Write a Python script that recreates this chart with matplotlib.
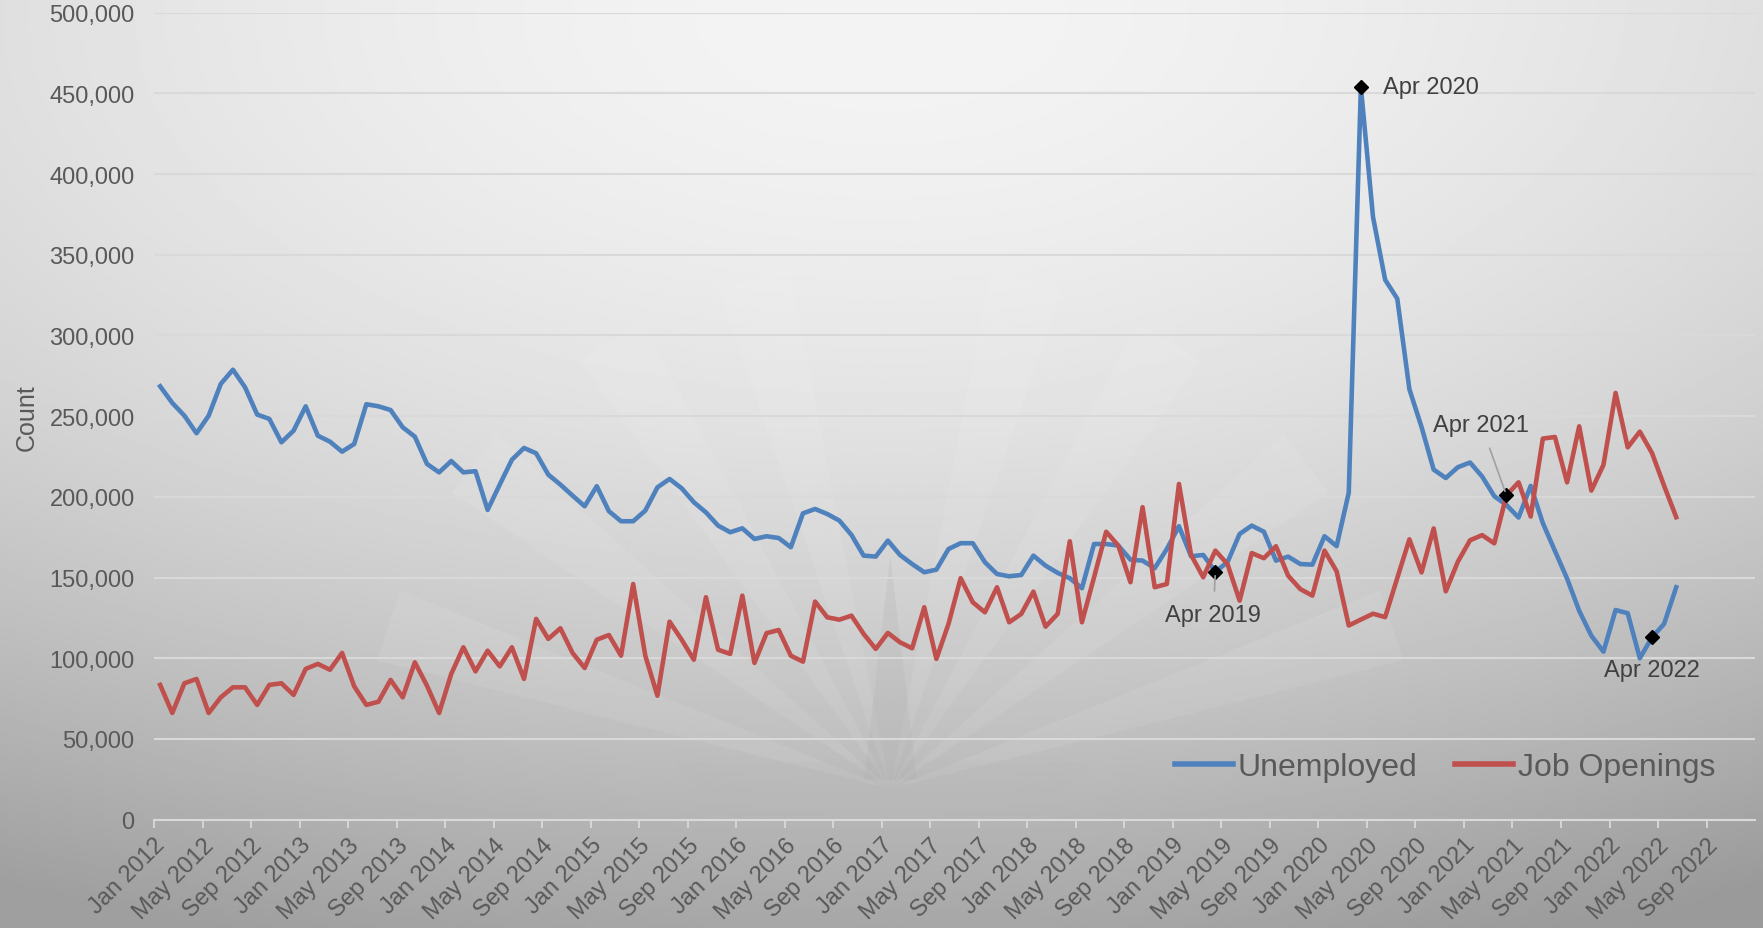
import numpy as np
import matplotlib
matplotlib.use("Agg")
import matplotlib.pyplot as plt
from matplotlib.patches import Polygon

plt.rcParams['font.family'] = ['Liberation Sans', 'DejaVu Sans']

# monthly values, Jan 2012 .. Jun 2022 (thousands)
unemployed = [268.5, 258.2, 250.3, 239.4, 250.3, 270.0, 278.8, 267.9, 251.0, 248.3, 233.8, 241.0,
              256.1, 237.9, 234.2, 228.0, 232.8, 257.4, 256.1, 253.8, 243.1, 237.3, 220.4, 215.2,
              222.2, 215.2, 215.9, 191.9, 207.6, 223.0, 230.3, 227.0, 213.8, 207.6, 200.8, 194.2,
              206.6, 191.1, 184.9, 184.9, 191.5, 205.9, 211.1, 205.3, 196.7, 190.4, 182.2, 178.1,
              180.5, 173.9, 175.6, 174.5, 168.8, 189.8, 192.5, 189.4, 185.3, 176.4, 163.6, 163.0,
              172.9, 164.0, 158.4, 153.3, 154.9, 167.7, 171.3, 171.3, 159.5, 152.2, 150.8, 151.6,
              163.6, 157.4, 152.9, 149.6, 143.4, 170.8, 170.8, 169.8, 161.1, 160.5, 155.8, 167.7,
              181.8, 163.2, 164.0, 153.7, 159.5, 177.0, 182.2, 178.4, 160.5, 163.0, 158.4, 158.0,
              175.6, 169.5, 202.6, 453.8, 373.4, 334.5, 322.8, 266.7, 243.3, 216.9, 211.7, 218.4,
              221.3, 212.6, 200.4, 195.0, 187.2, 206.8, 183.8, 166.5, 149.4, 129.4, 114.0, 104.1,
              129.9, 127.9, 100.0, 113.0, 121.3, 144.0]
job_openings = [83.5, 66.1, 84.5, 87.2, 66.1, 75.8, 82.0, 82.0, 71.1, 83.5, 84.5, 77.3,
                93.4, 96.5, 92.9, 103.3, 82.6, 71.1, 73.1, 86.6, 75.8, 97.5, 83.0, 66.1,
                90.3, 106.8, 91.9, 104.7, 95.0, 106.8, 87.2, 124.4, 112.0, 118.6, 103.3, 94.0,
                111.5, 114.4, 101.6, 146.0, 101.6, 76.8, 122.7, 111.5, 99.1, 137.8, 105.3, 102.7,
                138.8, 97.1, 115.6, 117.5, 101.6, 97.9, 135.1, 125.4, 123.9, 126.4, 115.1, 105.8,
                115.7, 109.9, 106.2, 131.6, 99.6, 121.3, 149.6, 134.7, 128.5, 144.0, 122.3, 127.5,
                141.3, 119.6, 127.5, 172.5, 122.3, 150.2, 178.4, 169.8, 147.1, 193.6, 144.0, 146.0,
                208.0, 164.0, 150.2, 166.7, 158.4, 135.7, 165.2, 162.0, 169.4, 151.2, 142.9, 138.8,
                166.7, 153.9, 120.3, 124.0, 127.6, 125.5, 149.7, 173.7, 153.2, 180.4, 141.5, 159.9,
                173.1, 176.3, 171.2, 201.0, 209.0, 187.8, 236.1, 237.1, 209.0, 243.7, 203.9, 219.8,
                264.4, 230.7, 240.4, 227.2, 206.9, 187.4]

month_names = ['Jan', 'Feb', 'Mar', 'Apr', 'May', 'Jun', 'Jul', 'Aug', 'Sep', 'Oct', 'Nov', 'Dec']
years = list(range(2012, 2023))
tick_labels = [f"{month_names[i % 12]} {years[i // 12]}" for i in range(0, 129, 4)]

# annotated points: (month index, series, label)
notes = [(87, 'u', 'Apr 2019'), (99, 'u', 'Apr 2020'), (111, 'j', 'Apr 2021'), (123, 'u', 'Apr 2022')]

blue = '#4F81BD'
red = '#C0504D'
txt = '#595959'

unemp = np.array(unemployed) * 1000
jobs = np.array(job_openings) * 1000
x = np.arange(len(unemp)) + 0.5

fig = plt.figure(figsize=(17.63, 9.29), dpi=100)

# gradient background
bg = fig.add_axes([0, 0, 1, 1], zorder=-10)
gy, gx = np.mgrid[0:1:300j, 0:1:600j]
d = np.sqrt(((gx - 0.5) * 1.0) ** 2 + ((gy - 0.02) * 1.05) ** 2)
shade = 0.955 - 0.26 * np.clip(d, 0, 1.1) ** 1.7
shade = shade - 0.05 * np.clip(gy - 0.45, 0, 1) - 0.05 * np.clip(gx - 0.6, 0, 1) * gy
bg.imshow(shade, cmap='gray', vmin=0, vmax=1, extent=[0, 1, 0, 1], aspect='auto', origin='upper')
# faint sunburst behind the plot
cx, cy = 0.505, 0.15
for ang in [18, 38, 58, 75, 105, 122, 142, 162]:
    a = np.radians(ang)
    w = np.radians(4)
    r = 0.30
    pts = [(cx, cy), (cx + r * np.cos(a - w), cy + r * np.sin(a - w) * 1.9),
           (cx + r * np.cos(a + w), cy + r * np.sin(a + w) * 1.9)]
    bg.add_patch(Polygon(pts, closed=True, color='white', alpha=0.08, lw=0))
bg.add_patch(Polygon([(0.383, 0.178), (0.62, 0.178), (0.6, 0.14), (0.4, 0.14)],
                     color='#b8b8b8', alpha=0.2, lw=0))
bg.add_patch(Polygon([(0.49, 0.16), (0.505, 0.40), (0.52, 0.16)], color='#a8a8a8', alpha=0.18, lw=0))
bg.set_xlim(0, 1)
bg.set_ylim(0, 1)
bg.axis('off')

ax = fig.add_axes([0.0874, 0.1166, 0.9081, 0.8687])
ax.patch.set_alpha(0)

ax.plot(x, unemp, color=blue, lw=3.3, label='Unemployed', solid_joinstyle='round', zorder=3)
ax.plot(x, jobs, color=red, lw=3.3, label='Job Openings', solid_joinstyle='round', zorder=3)

ax.set_xlim(0, 132)
ax.set_ylim(0, 500000)
ax.set_yticks(np.arange(0, 500001, 50000))
ax.set_yticklabels([f"{v:,}" for v in range(0, 500001, 50000)], fontsize=17, color=txt)
ax.set_xticks(np.arange(0, 129, 4))
ax.set_xticklabels(tick_labels, rotation=45, ha='right', rotation_mode='anchor',
                   fontsize=17, color=txt)
ax.tick_params(axis='y', length=0, pad=14)
ax.tick_params(axis='x', length=6, color='#d9d9d9', width=1.3, pad=4)
ax.grid(axis='y', color='#d9d9d9', lw=1.5)
ax.set_axisbelow(True)
for s in ['top', 'right', 'left']:
    ax.spines[s].set_visible(False)
ax.spines['bottom'].set_color('#d9d9d9')
ax.spines['bottom'].set_linewidth(1.5)
ax.set_ylabel('Count', fontsize=18, color=txt, labelpad=8)

# annotations
offsets = {'Apr 2019': (-2, -43, 'center', 'center', True),
           'Apr 2020': (22, 0, 'left', 'center', False),
           'Apr 2021': (-25, 70, 'center', 'center', True),
           'Apr 2022': (0, -33, 'center', 'center', False)}
for m, s, lab in notes:
    yv = unemp[m] if s == 'u' else jobs[m]
    ax.plot(x[m], yv, marker='D', color='black', ms=7, zorder=5)
    dx, dy, ha, va, leader = offsets[lab]
    props = dict(arrowstyle='-', color='#a0a0a0', lw=1.2, shrinkA=7, shrinkB=3) if leader else None
    ax.annotate(lab, (x[m], yv), xytext=(dx, dy), textcoords='offset pixels',
                ha=ha, va=va, fontsize=17, color='#404040', arrowprops=props, zorder=6)

leg = ax.legend(loc='center right', bbox_to_anchor=(0.993, 0.065), ncol=2, frameon=False,
                fontsize=23, handlelength=1.8, handletextpad=0.15, columnspacing=1.2)
for t in leg.get_texts():
    t.set_color(txt)
for h in leg.get_lines():
    h.set_linewidth(4)

fig.savefig('out.png', dpi=100)
